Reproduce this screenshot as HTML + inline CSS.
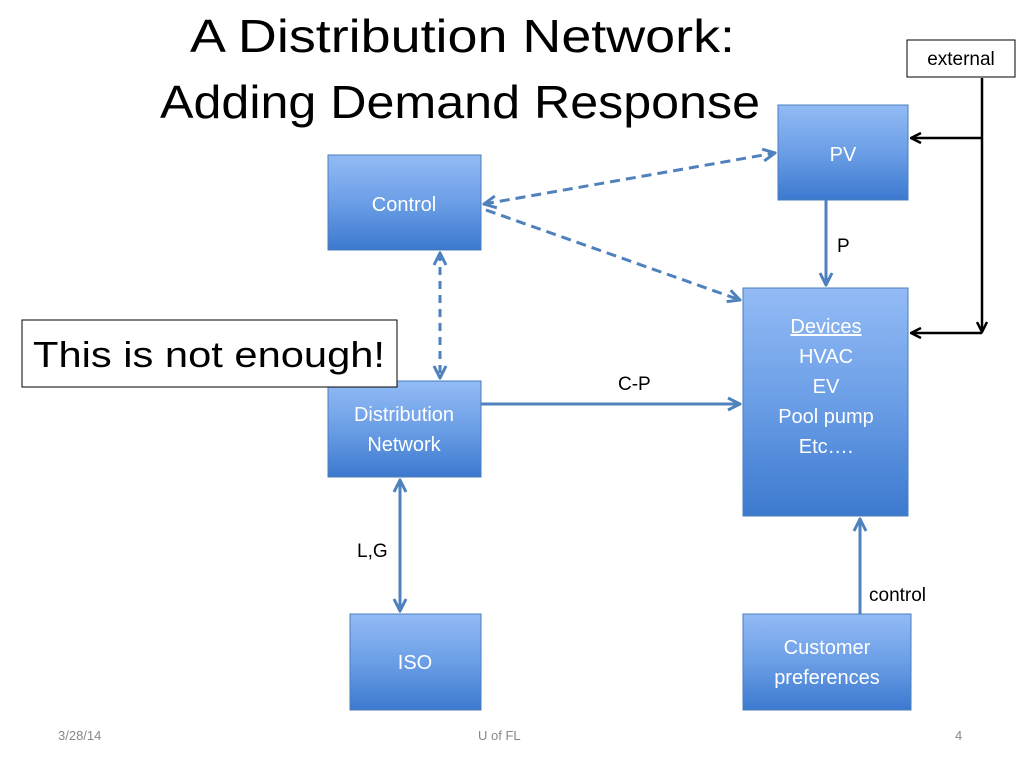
<!DOCTYPE html>
<html><head><style>
body{margin:0;width:1024px;height:768px;background:#fff;overflow:hidden}
svg{display:block}
text{font-family:"Liberation Sans",sans-serif}
</style></head><body>
<svg width="1024" height="768" viewBox="0 0 1024 768">
<defs>
<linearGradient id="g" x1="0" y1="0" x2="0" y2="1">
<stop offset="0" stop-color="#93bbf5"/><stop offset="0.5" stop-color="#6b9ee6"/><stop offset="1" stop-color="#3c79cf"/>
</linearGradient>
<marker id="ab" viewBox="0 0 10 10" refX="9" refY="5" markerWidth="5" markerHeight="5" orient="auto-start-reverse"><path d="M1,1 L9,5 L1,9" fill="none" stroke="#4f81bd" stroke-width="2"/></marker>
<marker id="ak" viewBox="0 0 10 10" refX="9" refY="5" markerWidth="5" markerHeight="5" orient="auto-start-reverse"><path d="M1,1 L9,5 L1,9" fill="none" stroke="#000" stroke-width="2"/></marker>
</defs>
<text x="190" y="52" font-size="46" textLength="545" lengthAdjust="spacingAndGlyphs">A Distribution Network:</text>
<text x="160" y="118" font-size="46" textLength="600" lengthAdjust="spacingAndGlyphs">Adding Demand Response</text>
<g stroke="#4a7ebb" stroke-width="1" fill="url(#g)">
<rect x="328" y="155" width="153" height="95"/>
<rect x="778" y="105" width="130" height="95"/>
<rect x="743" y="288" width="165" height="228"/>
<rect x="328" y="381" width="153" height="96"/>
<rect x="350" y="614" width="131" height="96"/>
<rect x="743" y="614" width="168" height="96"/>
</g>
<g fill="#fff" font-size="20" text-anchor="middle">
<text x="404" y="211">Control</text>
<text x="843" y="161">PV</text>
<text x="826" y="333" text-decoration="underline">Devices</text>
<text x="826" y="363">HVAC</text>
<text x="826" y="393">EV</text>
<text x="826" y="423">Pool pump</text>
<text x="826" y="453">Etc….</text>
<text x="404" y="421">Distribution</text>
<text x="404" y="451">Network</text>
<text x="415" y="669">ISO</text>
<text x="827" y="654">Customer</text>
<text x="827" y="684">preferences</text>
</g>
<g stroke="#4f81bd" stroke-width="3" fill="none">
<line x1="484" y1="204" x2="775" y2="153" stroke-dasharray="10,6" marker-start="url(#ab)" marker-end="url(#ab)"/>
<line x1="486" y1="210" x2="740" y2="300" stroke-dasharray="10,6" marker-end="url(#ab)"/>
<line x1="440" y1="253" x2="440" y2="378" stroke-dasharray="8,6" marker-start="url(#ab)" marker-end="url(#ab)"/>
<line x1="826" y1="200" x2="826" y2="285" marker-end="url(#ab)"/>
<line x1="481" y1="404" x2="740" y2="404" marker-end="url(#ab)"/>
<line x1="400" y1="480" x2="400" y2="611" marker-start="url(#ab)" marker-end="url(#ab)"/>
<line x1="860" y1="614" x2="860" y2="519" marker-end="url(#ab)"/>
</g>
<g stroke="#000" stroke-width="2.5" fill="none">
<line x1="982" y1="78" x2="982" y2="332" marker-end="url(#ak)"/>
<line x1="982" y1="138" x2="911" y2="138" marker-end="url(#ak)"/>
<line x1="982" y1="333" x2="911" y2="333" marker-end="url(#ak)"/>
</g>
<rect x="907" y="40" width="108" height="37" fill="#fff" stroke="#000" stroke-width="1"/>
<text x="961" y="65" font-size="19" text-anchor="middle">external</text>
<rect x="22" y="320" width="375" height="67" fill="#fff" stroke="#000" stroke-width="1"/>
<text x="33" y="367" font-size="36" textLength="352" lengthAdjust="spacingAndGlyphs">This is not enough!</text>
<g font-size="19">
<text x="837" y="252">P</text>
<text x="618" y="390">C-P</text>
<text x="357" y="557">L,G</text>
<text x="869" y="601">control</text>
</g>
<g fill="#888" font-size="13">
<text x="58" y="740">3/28/14</text>
<text x="478" y="740">U of FL</text>
<text x="955" y="740">4</text>
</g>
</svg>
</body></html>
